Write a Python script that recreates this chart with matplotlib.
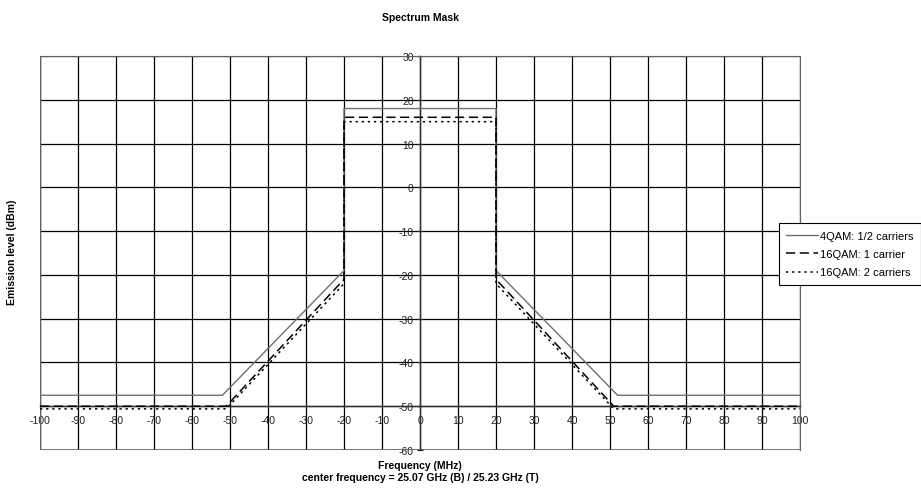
import numpy as np
import matplotlib
matplotlib.use("Agg")
import matplotlib.pyplot as plt

plt.rcParams['font.family'] = ['Liberation Sans', 'DejaVu Sans']

# spectrum masks (MHz, dBm)
freq_4qam = [-100, -52, -20, -20, 20, 20, 52, 100]
lvl_4qam = [-47.5, -47.5, -19, 18, 18, -19, -47.5, -47.5]

freq_16qam1 = [-100, -51, -20, -20, 20, 20, 51, 100]
lvl_16qam1 = [-50, -50, -21, 16, 16, -21, -50, -50]

freq_16qam2 = [-100, -51, -20, -20, 20, 20, 51, 100]
lvl_16qam2 = [-50.6, -50.6, -22, 15, 15, -22, -50.6, -50.6]

labels = ['4QAM: 1/2 carriers', '16QAM: 1 carrier', '16QAM: 2 carriers']
xticks = np.arange(-100, 101, 10)
yticks = np.arange(-60, 31, 10)

fig = plt.figure(figsize=(9.21, 4.89), dpi=100)
ax = fig.add_axes([40/921, 1 - 451/489, 760/921, 394/489])

ax.plot(freq_4qam, lvl_4qam, color='#707070', lw=1.0, label=labels[0], zorder=3)
ax.plot(freq_16qam1, lvl_16qam1, color='black', lw=1.1, ls=(0, (6, 3)), label=labels[1], zorder=3)
ax.plot(freq_16qam2, lvl_16qam2, color='black', lw=1.1, ls=(0, (1.5, 2.5)), label=labels[2], zorder=3)

ax.set_xlim(-100, 100)
ax.set_ylim(-60, 30)
ax.set_xticks(xticks)
ax.set_yticks(yticks)
ax.grid(True, color='black', lw=0.9)
ax.set_axisbelow(True)

# axes cross like in the original: y axis at 0, x axis at -50
ax.spines['left'].set_position(('data', 0))
ax.spines['bottom'].set_position(('data', -50))
for s in ['left', 'bottom']:
    ax.spines[s].set_color('#303030')
    ax.spines[s].set_linewidth(1.0)
for s in ['top', 'right']:
    ax.spines[s].set_color('#606060')
ax.tick_params(axis='both', direction='inout', length=5, width=0.8,
               labelsize=7.5, colors='#202020')
ax.tick_params(axis='x', pad=4)
ax.tick_params(axis='y', pad=2)
ax.set_xticklabels([str(v) for v in xticks])
ax.set_yticklabels([str(v) for v in yticks])

# bottom/left borders of the box
ax.axhline(-60, color='#606060', lw=1.2)
ax.axvline(-100, color='#606060', lw=1.0)

fig.text(420/921, 1 - 18/489, 'Spectrum Mask', ha='center', va='center',
         fontsize=7.5, fontweight='bold')
fig.text(12/921, 1 - 252/489, 'Emission level (dBm)', ha='center', va='center',
         rotation=90, fontsize=7.5, fontweight='bold')
fig.text(420/921, 1 - 466/489, 'Frequency (MHz)', ha='center', va='center',
         fontsize=7.5, fontweight='bold')
fig.text(420/921, 1 - 478/489, 'center frequency = 25.07 GHz (B) / 25.23 GHz (T)',
         ha='center', va='center', fontsize=7.5, fontweight='bold')

leg = fig.legend(loc='upper right', bbox_to_anchor=(1.0, 1 - 224/489),
                 fontsize=8, frameon=True, fancybox=False, framealpha=1,
                 edgecolor='black', handlelength=2.8, handletextpad=0.2,
                 borderpad=0.7, labelspacing=0.75, borderaxespad=0)
leg.get_frame().set_linewidth(0.8)

fig.savefig('out.png', dpi=100)
